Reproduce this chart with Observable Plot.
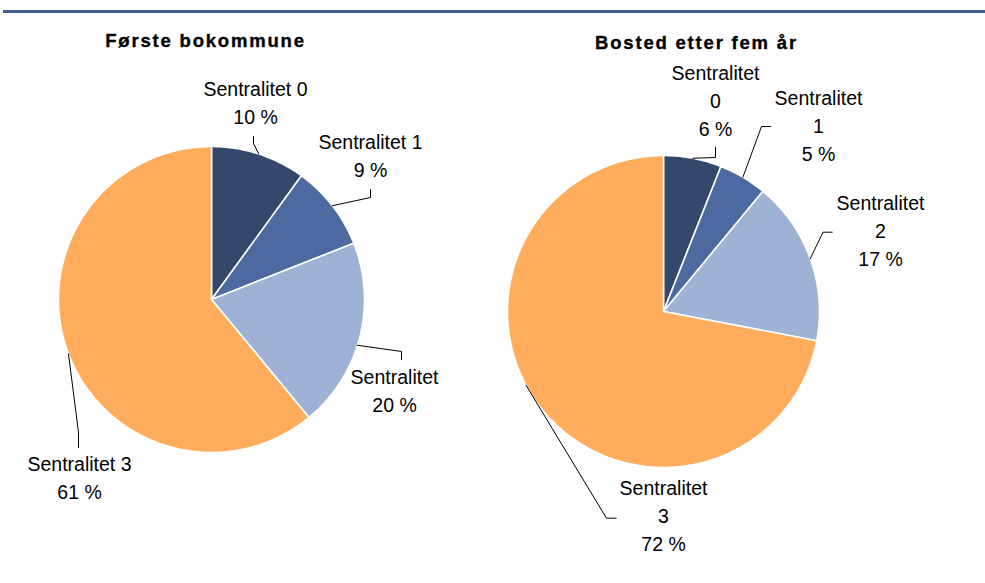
<!DOCTYPE html>
<html><head><meta charset="utf-8">
<script src="https://cdn.jsdelivr.net/npm/d3@7"></script>
<script src="https://cdn.jsdelivr.net/npm/@observablehq/plot@0.6"></script>
<style>
body{margin:0;background:#fff;}
#wrap{position:relative;width:985px;height:583px;overflow:hidden;font-family:"Liberation Sans",Arial,sans-serif;}
#rule{position:absolute;left:3px;top:10px;width:982px;height:3px;background:#3e5c8c;}
#wrap svg{position:absolute;left:0;top:0;}
</style></head><body>
<div id="wrap"><div id="rule"></div></div>
<script>
// ---- data ----
const categories = ["Sentralitet 0", "Sentralitet 1", "Sentralitet 2", "Sentralitet 3"];
const firstMunicipality = [10, 9, 20, 61];   // Første bokommune (%)
const afterFiveYears = [6, 5, 17, 72];        // Bosted etter fem år (%)
const chartTitles = ["Første bokommune", "Bosted etter fem år"];
const sliceColors = ["#35486c", "#4c6aa0", "#9fb1d5", "#ffac5c"];

// label text as shown in the picture
const labelTextFirst = categories.map((c, i) =>
  (i === 2 ? "Sentralitet" : c) + "\n" + firstMunicipality[i] + " %");
const labelTextAfter = categories.map((c, i) =>
  c.replace(" ", "\n") + "\n" + afterFiveYears[i] + " %");

// ---- layout (pixels) ----
const pieLayout = [
  {cx: 211, cy: 299, r: 153, titleX: 205, titleY: 46},
  {cx: 663, cy: 311, r: 156, titleX: 696, titleY: 48}
];
const labelLayoutFirst = [
  {x: 255, y: 101,   shift: 0,  bend: [253, 143], end: [253, 136]},
  {x: 370, y: 154,   shift: 0,  bend: [370, 197], end: [370, 189]},
  {x: 394, y: 389,   shift: 3,  bend: [401, 351], end: [401, 359]},
  {x: 79,  y: 475.5, shift: -1, bend: [78, 432],  end: [78, 447]}
];
const labelLayoutAfter = [
  {x: 715, y: 98.5, shift: 0,  bend: [715, 157],   end: [715, 147]},
  {x: 818, y: 123.5, shift: 0,  bend: [761, 126],   end: [770, 126]},
  {x: 880, y: 229,   shift: 0,  bend: [822.5, 231.7], end: [831.7, 231.7]},
  {x: 663, y: 514,   shift: 11.4, bend: [606, 517.7], end: [615.7, 517.7]}
];

const pies = [
  {title: chartTitles[0], values: firstMunicipality, labels: labelTextFirst, layout: pieLayout[0], labelLayout: labelLayoutFirst},
  {title: chartTitles[1], values: afterFiveYears, labels: labelTextAfter, layout: pieLayout[1], labelLayout: labelLayoutAfter}
];

// ---- build mark data ----
const rad = d => d * Math.PI / 180;
const slicePts = [], leaderPts = [], labelRows = [], titleRows = [];
pies.forEach((p, pi) => {
  const {cx, cy, r} = p.layout;
  const total = d3.sum(p.values);
  let acc = 0;
  titleRows.push({x: p.layout.titleX, y: p.layout.titleY, text: p.title});
  p.values.forEach((v, i) => {
    const a0 = acc / total * 360, a1 = (acc + v) / total * 360;
    acc += v;
    const id = pi + "-" + i;
    slicePts.push({id, cat: categories[i], x: cx, y: cy});
    const n = Math.max(2, Math.ceil(a1 - a0));
    for (let k = 0; k <= n; k++) {
      const a = rad(a0 + (a1 - a0) * k / n);
      slicePts.push({id, cat: categories[i], x: cx + r * Math.sin(a), y: cy - r * Math.cos(a)});
    }
    const L = p.labelLayout[i];
    const am = rad((a0 + a1) / 2 + L.shift);
    leaderPts.push({id, x: cx + r * Math.sin(am), y: cy - r * Math.cos(am)});
    leaderPts.push({id, x: L.bend[0], y: L.bend[1]});
    leaderPts.push({id, x: L.end[0], y: L.end[1]});
    labelRows.push({x: L.x, y: L.y, text: p.labels[i]});
  });
});

const chart = Plot.plot({
  width: 985,
  height: 583,
  margin: 0,
  style: {fontFamily: "'Liberation Sans', Arial, sans-serif", background: "transparent"},
  x: {domain: [0, 985], axis: null},
  y: {domain: [0, 583], range: [0, 583], axis: null},
  color: {domain: categories, range: sliceColors},
  marks: [
    Plot.line(slicePts, {x: "x", y: "y", z: "id", fill: "cat", stroke: "white", strokeWidth: 1.6, curve: "linear-closed"}),
    Plot.line(leaderPts, {x: "x", y: "y", z: "id", stroke: "black", strokeWidth: 1}),
    Plot.text(labelRows, {x: "x", y: "y", text: "text", fontSize: 19.5, lineHeight: 1.436, fill: "black", textAnchor: "middle"}),
    Plot.text(titleRows, {x: "x", y: "y", text: "text", fontSize: 18.5, fontWeight: "bold", fill: "black", stroke: "black", strokeWidth: 0.35, textAnchor: "middle", lineAnchor: "bottom"})
  ]
});
chart.querySelectorAll('g[font-weight="bold"]').forEach(g => g.setAttribute("letter-spacing", "1.8"));
document.getElementById("wrap").appendChild(chart);
</script>
</body></html>
